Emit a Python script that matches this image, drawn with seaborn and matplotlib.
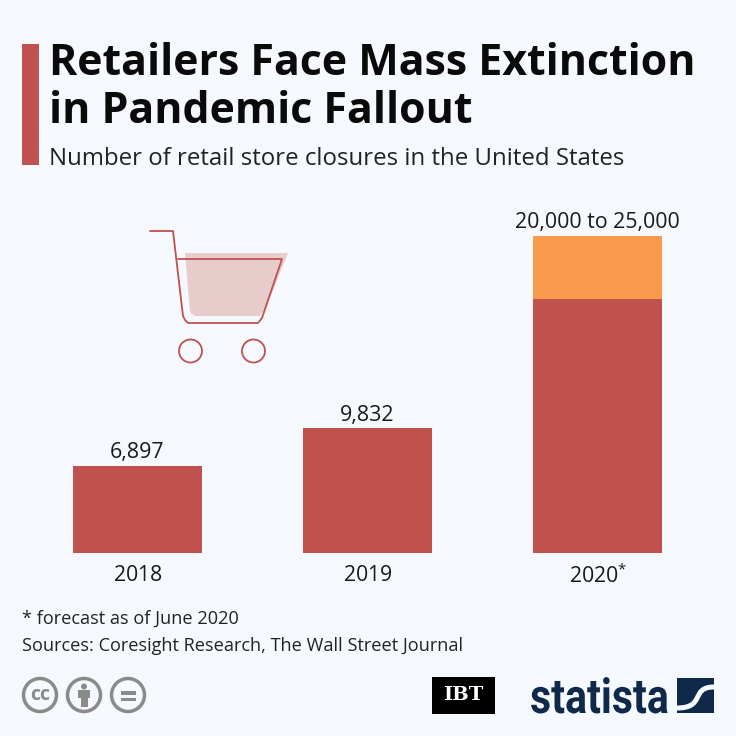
import matplotlib
matplotlib.use('Agg')
import matplotlib.pyplot as plt
import matplotlib.patches as mpatches
from matplotlib.path import Path
from matplotlib.patheffects import AbstractPathEffect
from matplotlib.transforms import Affine2D
import pandas as pd
import seaborn as sns

years = ['2018', '2019', '2020*']
closures = [6897, 9832, 20000]
closures_high = [6897, 9832, 25000]
value_labels = ['6,897', '9,832', '20,000 to 25,000']

RED = '#c0514f'
ORANGE = '#f9994c'
BG = '#f5f8fc'
GREY = '#8a8a8a'
NAVY = '#10294a'
W = 736


# the logo font is condensed and none is installed, so squeeze the glyphs
class SqueezeX(AbstractPathEffect):
    def __init__(self, x0, factor):
        super().__init__()
        self.x0 = x0
        self.factor = factor

    def draw_path(self, renderer, gc, tpath, affine, rgbFace=None):
        squeeze = Affine2D().translate(-self.x0, 0).scale(self.factor, 1).translate(self.x0, 0)
        renderer.draw_path(gc, tpath, affine + squeeze, rgbFace)


sns.set_theme(style='white')
plt.rcParams['font.family'] = ['Open Sans', 'DejaVu Sans']
plt.rcParams['mathtext.default'] = 'regular'

df = pd.DataFrame({'year': years, 'low': closures, 'high': closures_high})

fig = plt.figure(figsize=(7.36, 7.36), dpi=100, facecolor=BG)

# chart area: baseline at y=553, 25000 at y=236, bars spaced 230px
top_px = 190
ax = fig.add_axes([22.5 / W, (W - 553) / W, 690 / W, (553 - top_px) / W])
ax.patch.set_alpha(0)
sns.barplot(data=df, x='year', y='high', color=ORANGE, saturation=1, width=0.56, linewidth=0, ax=ax)
sns.barplot(data=df, x='year', y='low', color=RED, saturation=1, width=0.56, linewidth=0, ax=ax)
ax.set_xlim(-0.5, 2.5)
ax.set_ylim(0, 25000 * (553 - top_px) / (553 - 236))
ax.set_xlabel('')
ax.set_ylabel('')
ax.set_yticks([])
# small raised star needs mathtext
ax.set_xticks(range(len(years)), ['$' + y.replace('*', '^{*}') + '$' for y in years])
ax.tick_params(axis='x', length=0, pad=20.5, labelsize=15.3, labelcolor='#1a1a1a')
for lab in ax.get_xticklabels():
    lab.set_verticalalignment('baseline')
# the superscript lifts the baseline a little, push that label back down
star_label = ax.get_xticklabels()[2]
star_label.set_transform(star_label.get_transform() + Affine2D().translate(0.5, -2))
sns.despine(ax=ax, left=True, bottom=True)

for i, v in enumerate(closures_high):
    ax.annotate(value_labels[i], (i, v), xytext=(0, 2), textcoords='offset points',
                ha='center', va='bottom', fontsize=15.4, color='#1a1a1a')

# overlay in pixel coords for header, cart, footer
ov = fig.add_axes([0, 0, 1, 1], facecolor='none')
ov.set_xlim(0, W)
ov.set_ylim(W, 0)
ov.axis('off')

ov.add_patch(mpatches.Rectangle((22, 44), 17, 121, color=RED, lw=0))
ov.text(49, 75, 'Retailers Face Mass Extinction', fontsize=30.9, fontweight='bold', color='#0a0a0a', va='baseline')
ov.text(49, 123, 'in Pandemic Fallout', fontsize=30.9, fontweight='bold', color='#0a0a0a', va='baseline')
ov.text(49, 165, 'Number of retail store closures in the United States', fontsize=17.3, color='#222222', va='baseline')

# shopping cart
ov.add_patch(mpatches.Polygon([(185, 253), (288, 253), (265, 310), (259, 316), (195, 316), (190, 312)],
                              closed=True, color='#e8cccc', lw=0))
ov.plot([150, 173, 183, 185, 188, 258, 262, 282, 178],
        [231, 231, 316, 320, 323, 323, 318, 259, 259], color=RED, lw=1.3, solid_joinstyle='round')
for cx in [190.5, 253.5]:
    ov.add_patch(mpatches.Ellipse((cx, 351), 23, 23, fill=False, ec=RED, lw=1.3))

# footer notes
ov.text(22, 624, '* forecast as of June 2020', fontsize=13.1, color='#222222', va='baseline')
ov.text(22, 651, 'Sources: Coresight Research, The Wall Street Journal', fontsize=13.1, color='#222222', va='baseline')

# cc icons
for cx in [40, 84, 128]:
    ov.add_patch(mpatches.Ellipse((cx, 695), 33, 33, fill=False, ec=GREY, lw=2.5))
ov.text(40, 694.5, 'cc', fontsize=14, fontweight='bold', color=GREY, ha='center', va='center')
ov.add_patch(mpatches.Ellipse((84, 686.5), 6, 6, color=GREY, lw=0))
ov.add_patch(mpatches.Rectangle((78, 690), 12, 8, color=GREY, lw=0))
ov.add_patch(mpatches.Rectangle((80.5, 698), 7, 9, color=GREY, lw=0))
ov.add_patch(mpatches.Rectangle((121, 691), 15, 3.5, color=GREY, lw=0))
ov.add_patch(mpatches.Rectangle((121, 697.5), 15, 3.5, color=GREY, lw=0))

# IBT box
ov.add_patch(mpatches.Rectangle((432, 677), 63, 37, color='black', lw=0))
ov.text(463.5, 695.5, 'IBT', fontsize=14, fontweight='bold', family=['DejaVu Serif'],
        color='white', ha='center', va='center')

# statista logo
logo = ov.text(530, 713, 'statista', fontsize=35, fontweight='bold', family=['Roboto'],
               color=NAVY, ha='left', va='baseline')
logo.set_path_effects([SqueezeX(530, 0.845)])
ov.add_patch(mpatches.Rectangle((677, 678), 37, 35, color=NAVY, lw=0))
swoosh = Path([(677, 708), (706, 708), (690, 687), (714, 687)],
              [Path.MOVETO, Path.CURVE4, Path.CURVE4, Path.CURVE4])
ov.add_patch(mpatches.PathPatch(swoosh, fill=False, ec=BG, lw=3.6, capstyle='butt'))

fig.savefig('out.png', dpi=100, facecolor=BG)
